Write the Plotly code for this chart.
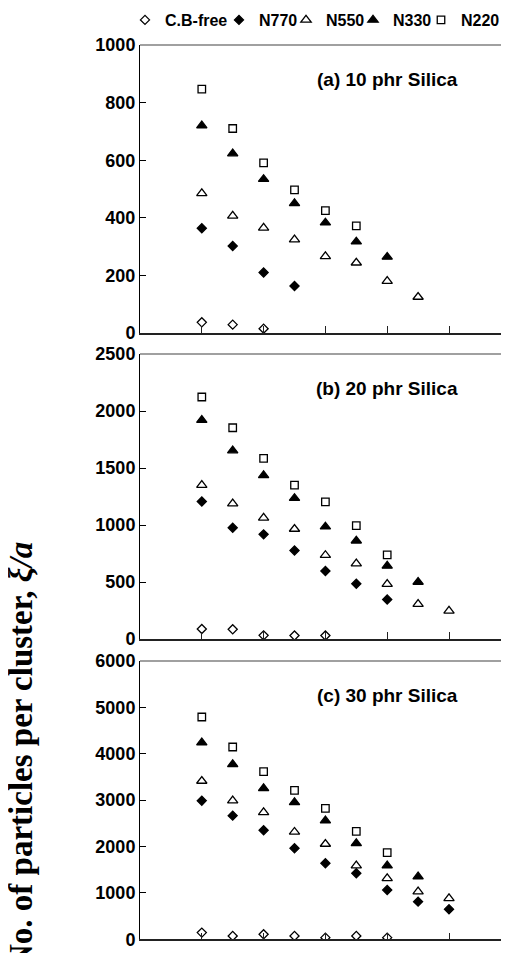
import plotly.graph_objects as go

# ---- data ----
x_pos = [2, 3, 4, 5, 6, 7, 8, 9, 10]
series_names = ["C.B-free", "N770", "N550", "N330", "N220"]

# (a) 10 phr Silica
a_cbfree = [37, 29, 15]
a_n770 = [364, 302, 210, 163]
a_n550 = [485, 407, 365, 324, 266, 244, 180, 125]
a_n330 = [720, 623, 534, 450, 383, 317, 264]
a_n220 = [847, 710, 591, 497, 425, 372]

# (b) 20 phr Silica
b_cbfree = [88, 85, 32, 30, 30]
b_n770 = [1206, 976, 918, 776, 597, 485, 347]
b_n550 = [1350, 1188, 1062, 965, 735, 662, 482, 306, 247]
b_n330 = [1920, 1653, 1435, 1235, 985, 862, 641, 500]
b_n220 = [2123, 1853, 1585, 1350, 1203, 994, 738]

# (c) 30 phr Silica
c_cbfree = [144, 72, 108, 72, 36, 72, 36]
c_n770 = [2989, 2666, 2350, 1962, 1638, 1423, 1064, 812, 647]
c_n550 = [3413, 2989, 2738, 2314, 2055, 1588, 1315, 1028, 884]
c_n330 = [4240, 3773, 3255, 2953, 2558, 2070, 1588, 1351]
c_n220 = [4793, 4146, 3615, 3212, 2824, 2328, 1868]

panel_titles = ["(a) 10 phr Silica", "(b) 20 phr Silica", "(c) 30 phr Silica"]
y_ranges = [[0, 1000], [0, 2500], [0, 6000]]
y_dticks = [200, 500, 1000]
y_title = "<b>No. of particles per cluster, <i>ξ/a</i></b>"

panels = [
    [a_cbfree, a_n770, a_n550, a_n330, a_n220],
    [b_cbfree, b_n770, b_n550, b_n330, b_n220],
    [c_cbfree, c_n770, c_n550, c_n330, c_n220],
]

# ---- styles ----
W, H = 509, 953
OFF = 8  # page body margin of the browser
symbols = ["diamond-open", "diamond", "triangle-up-open", "triangle-up", "square-open"]
sizes = [7, 7, 9, 9, 7.5]
legend_widths = [49, 22, 22, 23, 40]
sans = "Liberation Sans, Arial, sans-serif"
serif = "Liberation Serif, Times New Roman, serif"


def px_x(px):
    return (px - OFF) / W


def px_y(py):
    return 1 - (py - OFF) / H


# panel screen-pixel boxes (top, bottom)
boxes = [(45, 333), (354, 639), (661, 939.3)]
x_left = 140
x_unit = 30.9

fig = go.Figure()
axis_ids = ["", "2", "3"]
for p, data in enumerate(panels):
    ax = axis_ids[p]
    for s, vals in enumerate(data):
        fig.add_trace(go.Scatter(
            x=x_pos[:len(vals)], y=vals, mode="markers",
            name=series_names[s], legendgroup=series_names[s],
            showlegend=(p == 0), legendwidth=legend_widths[s],
            marker=dict(symbol=symbols[s], size=sizes[s], color="black",
                        line=dict(color="black", width=1.3)),
            xaxis="x" + ax, yaxis="y" + ax,
        ))

layout = dict(
    width=W, height=H,
    margin=dict(l=0, r=0, t=0, b=0, autoexpand=False),
    paper_bgcolor="white", plot_bgcolor="white",
    showlegend=True,
    legend=dict(orientation="h", x=px_x(125), xanchor="left",
                y=px_y(20), yanchor="middle",
                font=dict(family=sans, size=16, color="black", weight="bold"),
                itemwidth=30, traceorder="normal", tracegroupgap=0,
                bgcolor="rgba(0,0,0,0)"),
    shapes=[], annotations=[],
)

x_right_px = W + OFF
for p in range(3):
    ax = axis_ids[p]
    top, bot = boxes[p]
    layout["xaxis" + ax] = dict(
        domain=[px_x(x_left), 1], range=[0, (x_right_px - x_left) / x_unit],
        anchor="y" + ax, showgrid=False, zeroline=False,
        showline=True, linecolor="#222", linewidth=1.5,
        ticks="inside", ticklen=7, tickwidth=1, tickcolor="#222",
        tick0=0, dtick=2, showticklabels=False,
    )
    layout["yaxis" + ax] = dict(
        domain=[px_y(bot), px_y(top)], range=y_ranges[p],
        anchor="x" + ax, showgrid=False, zeroline=False,
        showline=True, linecolor="black", linewidth=1,
        ticks="inside", ticklen=6, tickwidth=1, tickcolor="black",
        tick0=0, dtick=y_dticks[p],
        tickfont=dict(family=sans, size=18, color="black", weight="bold"),
    )
    layout["shapes"].append(dict(
        type="line", xref="x" + ax + " domain", yref="y" + ax + " domain",
        x0=0, x1=1, y0=1, y1=1, line=dict(color="#808080", width=1.5)))
    layout["annotations"].append(dict(
        text=panel_titles[p], xref="paper", yref="paper",
        x=px_x(387), y=px_y(top + 34), xanchor="center", yanchor="middle",
        showarrow=False,
        font=dict(family=sans, size=19, color="black", weight="bold")))

layout["annotations"].append(dict(
    text=y_title, xref="paper", yref="paper", x=px_x(21), y=px_y(755),
    xanchor="center", yanchor="middle", textangle=-90, showarrow=False,
    font=dict(family=serif, size=33, color="black")))

fig.update_layout(**layout)
fig.write_html("out.html")
